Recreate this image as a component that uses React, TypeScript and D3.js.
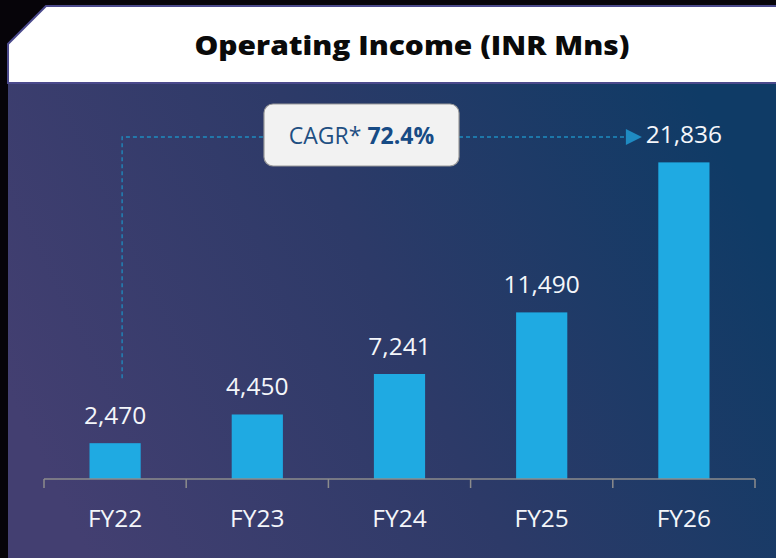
import React from "react";
import * as d3 from "d3";

const categories = ["FY22", "FY23", "FY24", "FY25", "FY26"];
const values = [2470, 4450, 7241, 11490, 21836];
const title = "Operating Income (INR Mns)";
const cagrLabel = "CAGR*";
const cagrValue = "72.4%";

const W = 776;
const H = 558;

export default function App() {
  const x = d3.scaleBand<string>().domain(categories).range([44, 755]).padding(0);
  const y = d3.scaleLinear().domain([0, 24000]).range([479, 131]);
  const bw = x.bandwidth() * 0.36;
  const fmt = d3.format(",");
  const base = y(0);
  const font = "'Open Sans', 'Noto Sans', sans-serif";

  const firstX = (x(categories[0]) as number) + x.bandwidth() / 2 + 7;
  const lastIdx = categories.length - 1;
  const lastCenter = (x(categories[lastIdx]) as number) + x.bandwidth() / 2;
  const lineY = 137;
  const boxX = 264, boxW = 195, boxY = 104, boxH = 62;
  const arrowTip = lastCenter - 42;

  const boundaries = categories.map((c) => x(c) as number).concat([x.range()[1]]);

  return (
    <svg width={W} height={H} style={{ position: "absolute", left: 0, top: 0 }}>
      <defs>
        <linearGradient id="bg" x1="0" y1="0.65" x2="1" y2="0.35">
          <stop offset="0" stopColor="#433f71" />
          <stop offset="0.5" stopColor="#2d3a68" />
          <stop offset="1" stopColor="#0f3b66" />
        </linearGradient>
      </defs>
      <rect x={0} y={0} width={W} height={H} fill="#060409" />
      <rect x={8} y={83} width={W - 8} height={H - 83} fill="url(#bg)" />
      <path d={`M46,6 L${W + 2},6 L${W + 2},83 L8,83 L8,44 Z`} fill="#ffffff" stroke="#4b4a8c" strokeWidth={2} />
      <text
        x={412}
        y={55}
        textAnchor="middle"
        fontFamily="'Open Sans', sans-serif"
        fontWeight={800}
        fontSize={26}
        fill="#0a0a0a"
        textLength={435}
        lengthAdjust="spacingAndGlyphs"
      >
        {title}
      </text>

      {/* CAGR connector */}
      <g stroke="#1e8cc0" strokeWidth={1.3} strokeDasharray="4 3" fill="none">
        <path d={`M${firstX},${y(values[0]) - 65} L${firstX},${lineY} L${boxX},${lineY}`} />
        <path d={`M${boxX + boxW},${lineY} L${arrowTip - 14},${lineY}`} />
      </g>
      <polygon
        points={`${arrowTip - 16},${lineY - 8} ${arrowTip},${lineY} ${arrowTip - 16},${lineY + 8}`}
        fill="#1f8bc2"
      />
      <rect x={boxX} y={boxY} width={boxW} height={boxH} rx={9} fill="#f2f2f2" stroke="#9a9a9a" strokeWidth={1.2} />
      <text x={boxX + boxW / 2} y={144} textAnchor="middle" fontFamily={font} fontSize={23}>
        <tspan fill="#1f4f82">{cagrLabel} </tspan>
        <tspan fill="#174b85" fontWeight={700}>{cagrValue}</tspan>
      </text>

      {/* bars */}
      {categories.map((c, i) => {
        const cx = (x(c) as number) + x.bandwidth() / 2;
        return (
          <g key={c}>
            <rect x={cx - bw / 2} y={y(values[i])} width={bw} height={base - y(values[i])} fill="#1faae2" />
            <text x={cx} y={y(values[i]) - 19} textAnchor="middle" fontFamily={font} fontSize={24.5} fill="#f4f6fa">
              {fmt(values[i])}
            </text>
            <text x={cx} y={527} textAnchor="middle" fontFamily={font} fontSize={24.5} fill="#f4f6fa">
              {c}
            </text>
          </g>
        );
      })}

      {/* axis */}
      <g stroke="#8c8c8c" strokeWidth={1.5} fill="none">
        <line x1={x.range()[0]} x2={x.range()[1]} y1={base} y2={base} />
        {boundaries.map((b, i) => (
          <line key={i} x1={b} x2={b} y1={base} y2={base + 9} />
        ))}
      </g>
    </svg>
  );
}
